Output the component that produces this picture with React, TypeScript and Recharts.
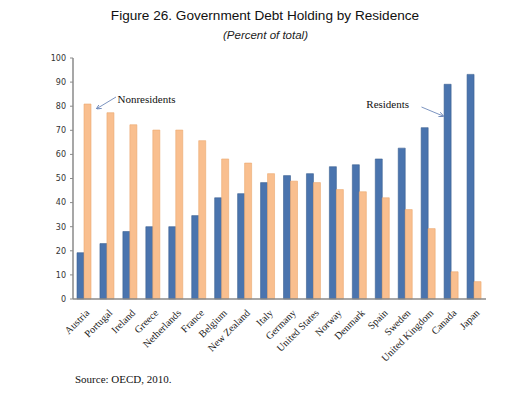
import React from "react";
import { BarChart, Bar, XAxis, YAxis } from "recharts";

const countries = [
  "Austria", "Portugal", "Ireland", "Greece", "Netherlands", "France", "Belgium",
  "New Zealand", "Italy", "Germany", "United States", "Norway", "Denmark", "Spain",
  "Sweden", "United Kingdom", "Canada", "Japan",
];
const residents = [19.2, 23.0, 28.0, 30.0, 30.0, 34.6, 42.0, 43.7, 48.3, 51.2, 52.0, 54.9, 55.7, 58.1, 62.6, 71.1, 89.1, 93.2];
const nonresidents = [80.9, 77.3, 72.3, 70.1, 70.1, 65.7, 58.1, 56.4, 52.0, 48.9, 48.3, 45.4, 44.5, 42.0, 37.1, 29.2, 11.3, 7.2];
const yTicks = [0, 10, 20, 30, 40, 50, 60, 70, 80, 90, 100];

const title = "Figure 26. Government Debt Holding by Residence";
const subtitle = "(Percent of total)";
const source = "Source: OECD, 2010.";

const data = countries.map((c, i) => ({ country: c, residents: residents[i], nonresidents: nonresidents[i] }));

const XTick = (props: any) => {
  const { x, y, payload } = props;
  return (
    <g transform={`translate(${x + 3},${y + 4})`}>
      <text
        textAnchor="end"
        transform="rotate(-45)"
        fontSize={10.2}
        fontFamily="'Liberation Serif', serif"
        fill="#222"
        dy="0.35em"
      >
        {payload.value}
      </text>
    </g>
  );
};

export default function App() {
  return (
    <div style={{ position: "absolute", left: 0, top: 0, width: 530, height: 396, background: "#fff" }}>
      <BarChart
        width={530}
        height={396}
        data={data}
        margin={{ top: 58, right: 44, left: 0, bottom: 37 }}
        barGap={0}
        barSize={7}
      >
        <XAxis
          dataKey="country"
          interval={0}
          tick={<XTick />}
          tickLine={false}
          height={60}
          axisLine={{ stroke: "#8a8a8a", strokeWidth: 1.5 }}
        />
        <XAxis xAxisId="top" orientation="top" dataKey="country" height={0} tick={false} tickLine={false} axisLine={{ stroke: "#c8c8c8" }} />
        <YAxis
          domain={[0, 100]}
          ticks={yTicks}
          width={73}
          tickSize={3}
          tickMargin={4}
          tick={{ fontSize: 8, fontFamily: "'DejaVu Sans', sans-serif", fill: "#333" }}
          tickLine={{ stroke: "#8a8a8a" }}
          axisLine={{ stroke: "#8a8a8a", strokeWidth: 1.5 }}
        />
        <YAxis yAxisId="right" orientation="right" width={0} tick={false} tickLine={false} axisLine={{ stroke: "#c8c8c8" }} />
        <Bar dataKey="residents" fill="#4A74AE" stroke="#3A5F91" strokeWidth={0.6} isAnimationActive={false} />
        <Bar dataKey="nonresidents" fill="#F9BF8F" stroke="#EBA86F" strokeWidth={0.6} isAnimationActive={false} />
      </BarChart>
      <svg width={530} height={396} style={{ position: "absolute", left: 0, top: 0, pointerEvents: "none" }}>
        <defs>
          <marker id="ah" markerWidth="6" markerHeight="6" refX="5" refY="3" orient="auto">
            <path d="M0,0 L6,3 L0,6" fill="none" stroke="#5a78b0" strokeWidth={1} />
          </marker>
        </defs>
        <text x={265} y={20} textAnchor="middle" fontSize={13.6} fontFamily="'Liberation Sans', sans-serif" fill="#111">{title}</text>
        <text x={265.5} y={39} textAnchor="middle" fontSize={11.5} fontStyle="italic" fontFamily="'Liberation Sans', sans-serif" fill="#222">{subtitle}</text>
        <text x={117.5} y={102.5} fontSize={11} fontFamily="'Liberation Serif', serif" fill="#111">Nonresidents</text>
        <line x1={116} y1={97} x2={97} y2={108.5} stroke="#5a78b0" strokeWidth={0.8} markerEnd="url(#ah)" />
        <text x={366.3} y={107.5} fontSize={11} fontFamily="'Liberation Serif', serif" fill="#111">Residents</text>
        <line x1={421.5} y1={107} x2={443} y2={116} stroke="#5a78b0" strokeWidth={0.8} markerEnd="url(#ah)" />
        <text x={75} y={383} fontSize={11} fontFamily="'Liberation Serif', serif" fill="#111">{source}</text>
      </svg>
    </div>
  );
}
